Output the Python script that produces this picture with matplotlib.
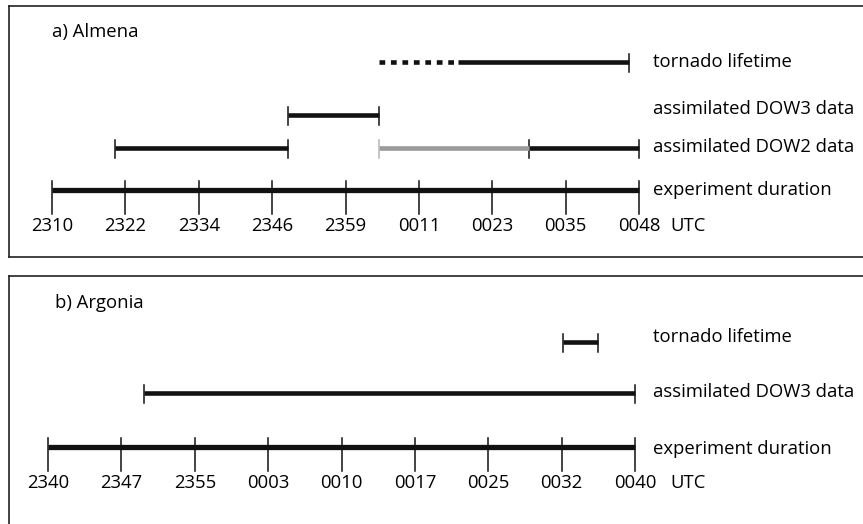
import numpy as np
from matplotlib import pyplot as plt

plt.rcParams['font.family'] = ['Open Sans', 'DejaVu Sans']

# ---- data: times in minutes after the first tick ----
a_ticks = ['2310', '2322', '2334', '2346', '2359', '0011', '0023', '0035', '0048']
a_span = 98                                   # 2310 -> 0048
a_tornado_dotted = (54.6, 67.8)
a_tornado_solid = (67.8, 96.3)
a_dow3 = (39.4, 54.6)
a_dow2_black = [(10.6, 39.4), (79.6, 98.0)]
a_dow2_gray = (54.6, 79.6)

b_ticks = ['2340', '2347', '2355', '0003', '0010', '0017', '0025', '0032', '0040']
b_span = 60                                   # 2340 -> 0040
b_tornado = (52.6, 56.2)
b_dow3 = (9.8, 60.0)

row_labels_a = ['tornado lifetime', 'assimilated DOW3 data',
                'assimilated DOW2 data', 'experiment duration']
row_labels_b = ['tornado lifetime', 'assimilated DOW3 data', 'experiment duration']

W, H = 863, 524
fig = plt.figure(figsize=(W / 100, H / 100), dpi=100)
FS = 13.3
LW = 3.3
TLW = 1.1


def make_panel(top, bot, x0, x1, span):
    # axes in pixel-like coords: y measured from figure top, x in minutes
    ax = fig.add_axes([9 / W, 1 - bot / H, (880 - 9) / W, (bot - top) / H])
    ppm = (x1 - x0) / span
    ax.set_xlim((9 - x0) / ppm, (880 - x0) / ppm)
    ax.set_ylim(bot, top)
    ax.set_xticks([])
    ax.set_yticks([])
    ax.spines['right'].set_visible(False)
    for s in ax.spines.values():
        s.set_linewidth(1.2)
        s.set_color('#222222')
    return ax, lambda px: (px - x0) / ppm


def seg(ax, t, y, color='#111111', ticks=(True, True), tick_color=None, ls='-'):
    ax.plot(t, [y, y], color=color, lw=LW, ls=ls, solid_capstyle='butt',
            dash_capstyle='butt')
    tc = tick_color or color
    for on, x in zip(ticks, t):
        if on:
            ax.plot([x, x], [y - 8, y + 10], color=tc, lw=TLW)


def timeline(ax, labels, span, y, ylab, px2min):
    ax.plot([0, span], [y, y], color='#111111', lw=3.8, solid_capstyle='butt')
    pos = np.linspace(0, span, len(labels))
    for x, lab in zip(pos, labels):
        ax.plot([x, x], [y - 9, y + 24], color='#111111', lw=TLW)
        ax.text(x, ylab, lab, ha='center', va='center', fontsize=FS)
    ax.text(px2min(670), ylab, 'UTC', ha='left', va='center', fontsize=FS)


# ---- a) Almena ----
axa, pa = make_panel(6, 257, 52, 639, a_span)
axa.text(pa(52), 32, 'a) Almena', ha='left', va='center', fontsize=FS)
seg(axa, a_tornado_dotted, 62, ls=(0, (1.25, 1.25)), ticks=(False, False))
seg(axa, a_tornado_solid, 62, ticks=(False, True))
seg(axa, a_dow3, 115)
for t in a_dow2_black:
    seg(axa, t, 148)
seg(axa, a_dow2_gray, 148, color='#9a9a9a', ticks=(True, False), tick_color='#b5b5b5')
timeline(axa, a_ticks, a_span, 190, 226, pa)
for lab, y in zip(row_labels_a, [62, 109, 147, 190]):
    axa.text(pa(653), y, lab, ha='left', va='center', fontsize=FS)

# ---- b) Argonia ----
axb, pb = make_panel(276, 560, 48, 635, b_span)
axb.spines['bottom'].set_visible(False)
axb.text(pb(55), 303, 'b) Argonia', ha='left', va='center', fontsize=FS)
seg(axb, b_tornado, 342)
seg(axb, b_dow3, 393)
timeline(axb, b_ticks, b_span, 447, 483, pb)
for lab, y in zip(row_labels_b, [337, 392, 449]):
    axb.text(pb(653), y, lab, ha='left', va='center', fontsize=FS)

fig.savefig('out.png', dpi=100)
